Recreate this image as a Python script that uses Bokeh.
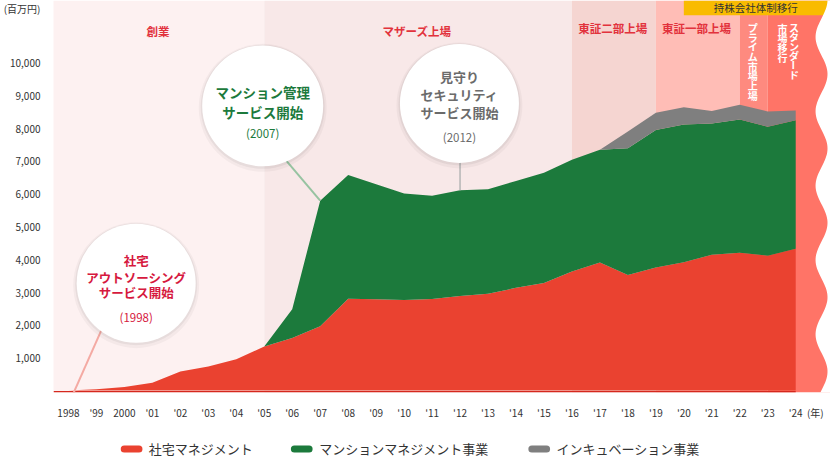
import math
import pandas as pd
from bokeh.plotting import figure
from bokeh.models import (ColumnDataSource, FixedTicker, NumeralTickFormatter, Range1d)
from bokeh.layouts import column
from bokeh.embed import file_html
from bokeh.resources import INLINE
from bokeh.core.properties import value

# ---------------- data ----------------
years = list(range(1998, 2025))
year_labels = ["1998", "'99", "2000", "'01", "'02", "'03", "'04", "'05", "'06",
               "'07", "'08", "'09", "'10", "'11", "'12", "'13", "'14", "'15",
               "'16", "'17", "'18", "'19", "'20", "'21", "'22", "'23", "'24"]
unit_x_label = "(年)"
unit_y_label = "(百万円)"

shataku = [0, 40, 110, 240, 580, 730, 950, 1340, 1600, 1960, 2800, 2780, 2760,
           2790, 2880, 2950, 3130, 3280, 3630, 3900, 3520, 3750, 3910, 4140,
           4200, 4110, 4320]
mansion = [0, 0, 0, 0, 0, 0, 0, 0, 880, 3830, 3770, 3510, 3250, 3150, 3230,
           3190, 3260, 3360, 3410, 3440, 3870, 4190, 4200, 4000, 4060, 3930, 3920]
incubation = [0] * 19 + [0, 510, 530, 530, 380, 450, 470, 300]

series_names = ["社宅マネジメント", "マンションマネジメント事業", "インキュベーション事業"]
series_start = [1998, 2005, 2017]
series_colors = ["#ea4230", "#1c7a3c", "#7f7f7f"]

y_ticks = [1000, 2000, 3000, 4000, 5000, 6000, 7000, 8000, 9000, 10000]
unit_y_pos = 11700

eras = ["創業", "マザーズ上場", "東証二部上場", "東証一部上場"]
era_start = [1997.43, 2005, 2016, 2019]
era_end = [2005, 2016, 2019, 2022]
era_colors = ["#fdf1f1", "#f8e8e8", "#f5d5d1", "#ffbdb6"]
vert_eras = ["プライム市場上場", "スタンダード市場移行"]
vert_start = [2022, 2023]
vert_end = [2023, 2026]
vert_colors = ["#fe8a7f", "#ff7467"]

holding_label = "持株会社体制移行"
holding_year = 2020

events = [["社宅", "アウトソーシング", "サービス開始"],
          ["マンション管理", "サービス開始"],
          ["見守り", "セキュリティ", "サービス開始"]]
event_years = ["(1998)", "(2007)", "(2012)"]
event_colors = ["#d6193e", "#1c7a3c", "#6b6b6b"]
line_colors = ["#f4aaa3", "#97c3a1", "#b5b5b5"]

FONT = value("Noto Sans CJK JP")
LEFT = 50  # frame left edge in page pixels


# pixel helpers for decorative placement (annotations only)
def xd(px):
    return 1998 + (px - 65) / 28.08


def yd(py):
    return (396 - py) / 0.0333


# ---------------- main figure ----------------
p = figure(width=830, height=422, output_backend="svg", toolbar_location=None,
           x_range=Range1d(xd(LEFT), xd(830)), y_range=Range1d(yd(398), yd(0)),
           min_border_left=LEFT, min_border_right=0, min_border_top=0,
           min_border_bottom=24, outline_line_color=None,
           background_fill_color="white", border_fill_color="white")
p.xgrid.visible = False
p.ygrid.visible = False

# era bands
p.quad(left=era_start, right=era_end, bottom=yd(398), top=yd(0),
       fill_color=era_colors, line_color=None)
p.quad(left=vert_start, right=vert_end, bottom=yd(398), top=yd(0),
       fill_color=vert_colors, line_color=None)
# holding company banner
p.quad(left=[holding_year], right=[xd(840)], bottom=[yd(15)], top=[yd(0)],
       fill_color="#f9bb00", line_color=None)

# stacked areas
df = pd.DataFrame({"year": years, "s": shataku, "m": mansion, "i": incubation})
df["t1"] = df.s
df["t2"] = df.t1 + df.m
df["t3"] = df.t2 + df.i
p.varea(x="year", y1=0, y2="t1", source=ColumnDataSource(df[df.year >= series_start[0]]),
        fill_color=series_colors[0])
p.varea(x="year", y1="t1", y2="t2", source=ColumnDataSource(df[df.year >= series_start[1]]),
        fill_color=series_colors[1])
p.varea(x="year", y1="t2", y2="t3", source=ColumnDataSource(df[df.year >= series_start[2]]),
        fill_color=series_colors[2])

# baseline
p.line(x=[xd(LEFT), years[-1]], y=[yd(397.3), yd(397.3)], line_color="#d5281e",
       line_width=1.5)

# wavy right edge mask
wave_py = [(-2 + k * 2) for k in range(202)]
wave_px = [821 - 6 * math.cos(2 * math.pi * (py - 37) / 75.5) for py in wave_py]
mask_x = [xd(v) for v in wave_px] + [xd(845), xd(845)]
mask_y = [yd(v) for v in wave_py] + [yd(wave_py[-1]), yd(wave_py[0])]
p.patch(mask_x, mask_y, fill_color="white", line_color=None)

# era labels
p.text(x=[xd(155), xd(415), xd(611.5), xd(695.5)],
       y=[yd(30.5), yd(30.5), yd(28), yd(28)], text=eras,
       text_font=FONT, text_font_size="11.5px", text_font_style="bold",
       text_color="#e2323c", text_align="center", text_baseline="middle")

# vertical era labels
cols = [(vert_eras[0], 752, 27.5, 9.8),
        ("スタンダード", 793.3, 27.5, 9.5),
        ("市場移行", 781.7, 28, 10.0)]
vx, vy, vt, va = [], [], [], []
for s, cxx, y0, step in cols:
    for k, ch in enumerate(s):
        vx.append(xd(cxx))
        vy.append(yd(y0 + k * step))
        vt.append(ch)
        va.append(-math.pi / 2 if ch == "ー" else 0)
p.text(x=vx, y=vy, text=vt, angle=va, text_font=FONT, text_font_size="10px",
       text_font_style="bold", text_color="white", text_align="center",
       text_baseline="middle")

# banner text
p.text(x=[xd(755)], y=[yd(7.5)], text=[holding_label], text_font=FONT,
       text_font_size="10.5px", text_color="#333333", text_align="center",
       text_baseline="middle")

# connectors
p.line(x=[xd(104.1), xd(67.7)], y=[yd(321), yd(404)], line_color=line_colors[0],
       line_width=2)
p.line(x=[xd(270), 2007], y=[yd(146.4), df.t2[df.year == 2007].iloc[0]],
       line_color=line_colors[1], line_width=2)
p.line(x=[2012, 2012], y=[yd(150), df.t2[df.year == 2012].iloc[0]],
       line_color=line_colors[2], line_width=1.5)

# circles
cxp = [133, 260, 457.5]
cyp = [287, 107, 104.5]
sizes = [119, 121, 119]
cx = [xd(v) for v in cxp]
cy = [yd(v) for v in cyp]
p.scatter(x=cx, y=[yd(v + 2) for v in cyp], size=[s + 7 for s in sizes],
          marker="circle", fill_color="#000000", fill_alpha=0.035, line_color=None)
p.scatter(x=cx, y=[yd(v + 1) for v in cyp], size=[s + 3 for s in sizes],
          marker="circle", fill_color="#000000", fill_alpha=0.05, line_color=None)
p.scatter(x=cx, y=cy, size=sizes, marker="circle", fill_color="white",
          line_color=None)

offsets = [[-23.5, -6, 9.7], [-14, 6], [-27.5, -8.8, 9.5]]
year_off = [34.7, 28, 34.2]
fsz = ["12.5px", "13.5px", "13px"]
for i in range(3):
    p.text(x=[cx[i]] * len(events[i]), y=[yd(cyp[i] + o) for o in offsets[i]],
           text=events[i], text_font=FONT, text_font_size=fsz[i],
           text_font_style="bold", text_color=event_colors[i],
           text_align="center", text_baseline="middle")
    p.text(x=[cx[i]], y=[yd(cyp[i] + year_off[i])], text=[event_years[i]],
           text_font=FONT, text_font_size="11.5px", text_color=event_colors[i],
           text_align="center", text_baseline="middle")

# axes
yax = p.yaxis[0]
yax.ticker = FixedTicker(ticks=y_ticks + [unit_y_pos])
yax.formatter = NumeralTickFormatter(format="0,0")
yax.major_label_overrides = {unit_y_pos: unit_y_label}
xax = p.xaxis[0]
xticks = years + [2024.7]
xax.ticker = FixedTicker(ticks=xticks)
overrides = {y: lab for y, lab in zip(years, year_labels)}
overrides[2024.7] = unit_x_label
xax.major_label_overrides = overrides
for ax in (xax, yax):
    ax.axis_line_color = None
    ax.major_tick_line_color = None
    ax.minor_tick_line_color = None
    ax.major_label_text_font = "Noto Sans CJK JP"
    ax.major_label_text_font_size = "10px"
    ax.major_label_text_color = "#333333"
yax.major_label_standoff = 7
xax.major_label_standoff = 6

# ---------------- legend strip ----------------
p2 = figure(width=830, height=34, output_backend="svg", toolbar_location=None,
            x_range=Range1d(LEFT, 830), y_range=Range1d(34, 0),
            min_border_left=LEFT, min_border_right=0, min_border_top=0,
            min_border_bottom=0,
            x_axis_type=None, y_axis_type=None, outline_line_color=None,
            background_fill_color="white", border_fill_color="white")
pill_x0 = [121.0, 291.8, 530.2]
text_x = [145.7, 316.7, 555.0]
p2.segment(x0=pill_x0, x1=[v + 14.8 for v in pill_x0], y0=[26.5] * 3, y1=[26.5] * 3,
           line_color=series_colors, line_width=7, line_cap="round")
p2.text(x=text_x, y=[25.5] * 3, text=series_names, text_font=FONT,
        text_font_size="13px", text_color="#333333", text_align="left",
        text_baseline="middle")

layout = column(p, p2, spacing=0)
open("out.html", "w").write(file_html(layout, INLINE))
